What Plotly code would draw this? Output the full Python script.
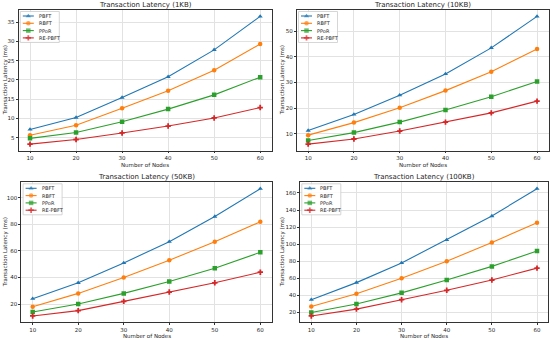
import plotly.graph_objects as go

nodes = [10, 20, 30, 40, 50, 60]
series_names = ["PBFT", "RBFT", "PPoR", "RE-PBFT"]
panel_titles = ["Transaction Latency (1KB)", "Transaction Latency (10KB)",
                "Transaction Latency (50KB)", "Transaction Latency (100KB)"]
y_dticks = [5, 10, 20, 20]

lat_1kb = {
    "PBFT": [7.1, 10.2, 15.4, 20.8, 27.8, 36.5],
    "RBFT": [5.6, 8.2, 12.6, 17.2, 22.5, 29.3],
    "PPoR": [4.8, 6.3, 9.1, 12.4, 16.1, 20.7],
    "RE-PBFT": [3.3, 4.5, 6.2, 8.0, 10.1, 12.8],
}
lat_10kb = {
    "PBFT": [11.2, 17.5, 25.0, 33.3, 43.5, 55.8],
    "RBFT": [9.4, 14.3, 20.1, 26.8, 34.2, 43.1],
    "PPoR": [7.3, 10.4, 14.5, 19.2, 24.4, 30.4],
    "RE-PBFT": [5.9, 7.9, 11.0, 14.5, 18.1, 22.7],
}
lat_50kb = {
    "PBFT": [24, 36, 51, 67, 86, 107],
    "RBFT": [18, 28, 40, 53, 67, 82],
    "PPoR": [14, 20, 28, 37, 47, 59],
    "RE-PBFT": [11, 15, 22, 29, 36, 44],
}
lat_100kb = {
    "PBFT": [35, 55, 78, 105, 133, 165],
    "RBFT": [27, 42, 60, 80, 102, 125],
    "PPoR": [20, 30, 43, 58, 74, 92],
    "RE-PBFT": [16, 24, 35, 46, 58, 72],
}
panels = [lat_1kb, lat_10kb, lat_50kb, lat_100kb]

colors = {"PBFT": "#1f77b4", "RBFT": "#ff7f0e", "PPoR": "#2ca02c", "RE-PBFT": "#d62728"}
symbols = {"PBFT": "triangle-up", "RBFT": "circle", "PPoR": "square", "RE-PBFT": "cross"}

W, H = 550, 339
# pixel boxes: left, right, top, bottom
boxes = [
    (18.5, 271.7, 10, 150.5),
    (296.7, 548.5, 10, 150.5),
    (21.3, 271.7, 182.3, 322.3),
    (300.0, 548.3, 182.3, 322.3),
]
ytitle_x = [5, 282, 5, 282]

FONT = "DejaVu Sans"
TXT = "#262626"
fig = go.Figure()
layout = dict(
    width=W, height=H, margin=dict(l=0, r=0, t=0, b=0),
    paper_bgcolor="white", plot_bgcolor="rgba(0,0,0,0)",
    font=dict(family=FONT, size=6, color=TXT),
    showlegend=False,
    annotations=[],
)

# overlay axis in pixel coordinates for the legends
layout["xaxis5"] = dict(domain=[0, 1], range=[0, W], visible=False, anchor="y5", fixedrange=True)
layout["yaxis5"] = dict(domain=[0, 1], range=[H, 0], visible=False, anchor="x5", fixedrange=True)

legend_traces = []
for i, (data, title, box) in enumerate(zip(panels, panel_titles, boxes)):
    n = "" if i == 0 else str(i + 1)
    xa, ya = "x" + n, "y" + n
    for s in series_names:
        fig.add_trace(go.Scatter(
            x=nodes, y=data[s], name=s, mode="lines+markers",
            line=dict(color=colors[s], width=1.1),
            marker=dict(symbol=symbols[s], size=4.5, color=colors[s], line=dict(width=0)),
            xaxis=xa, yaxis=ya,
        ))
    l, r, t, b = box
    allv = [v for s in series_names for v in data[s]]
    lo, hi = min(allv), max(allv)
    pad = (hi - lo) * 0.05
    axis_common = dict(
        showline=True, mirror=True, linecolor="#333", linewidth=0.8,
        showgrid=True, gridcolor="#e2e2e2", gridwidth=0.8,
        ticks="outside", ticklen=2, tickwidth=0.8, tickcolor="#333",
        tickfont=dict(size=5.5, family=FONT, color=TXT),
        zeroline=False,
    )
    layout["xaxis" + n] = dict(
        domain=[l / W, r / W], anchor=ya, range=[7.5, 62.5],
        tickvals=nodes, **axis_common,
    )
    layout["yaxis" + n] = dict(
        domain=[1 - b / H, 1 - t / H], anchor=xa, range=[lo - pad, hi + pad],
        dtick=y_dticks[i], tick0=0, **axis_common,
    )

    # legend (drawn in pixel space on overlay axis)
    bl, bt = l + 1.8, t + 1.5
    bw, bh = 39, 31
    legend_traces.append(go.Scatter(
        x=[bl, bl + bw, bl + bw, bl, bl], y=[bt, bt, bt + bh, bt + bh, bt],
        mode="lines", fill="toself", fillcolor="rgba(255,255,255,0.85)",
        line=dict(color="#cccccc", width=0.8), xaxis="x5", yaxis="y5",
        hoverinfo="skip", showlegend=False,
    ))
    for k, s in enumerate(series_names):
        yy = bt + 4.5 + k * 7.3
        legend_traces.append(go.Scatter(
            x=[bl + 2.5, bl + 8, bl + 13.5], y=[yy, yy, yy], mode="lines+markers",
            line=dict(color=colors[s], width=1.1),
            marker=dict(symbol=symbols[s], size=[0, 4.5, 0], color=colors[s], line=dict(width=0)),
            xaxis="x5", yaxis="y5", hoverinfo="skip", showlegend=False,
        ))
        layout["annotations"].append(dict(
            text=s, x=(bl + 16.5) / W, y=1 - yy / H, xref="paper", yref="paper",
            showarrow=False, xanchor="left", yanchor="middle",
            font=dict(size=5, family=FONT, color=TXT),
        ))

    cx = (l + r) / 2 / W
    layout["annotations"] += [
        dict(text=title, x=cx, y=1 - (t - 5.5) / H, xref="paper", yref="paper",
             showarrow=False, font=dict(size=7, family=FONT, color=TXT),
             xanchor="center", yanchor="middle"),
        dict(text="Number of Nodes", x=cx, y=1 - (b + 14) / H, xref="paper", yref="paper",
             showarrow=False, font=dict(size=5.5, family=FONT, color=TXT),
             xanchor="center", yanchor="middle"),
        dict(text="Transaction Latency (ms)", x=ytitle_x[i] / W, y=1 - (t + b) / 2 / H,
             xref="paper", yref="paper", textangle=-90,
             showarrow=False, font=dict(size=5.5, family=FONT, color=TXT),
             xanchor="center", yanchor="middle"),
    ]

for tr in legend_traces:
    fig.add_trace(tr)

fig.update_layout(**layout)
fig.write_html(
    "out.html",
    config={"displayModeBar": False},
    post_script="document.body.style.margin='0';document.body.style.padding='0';"
                "document.documentElement.style.overflow='hidden';",
)
